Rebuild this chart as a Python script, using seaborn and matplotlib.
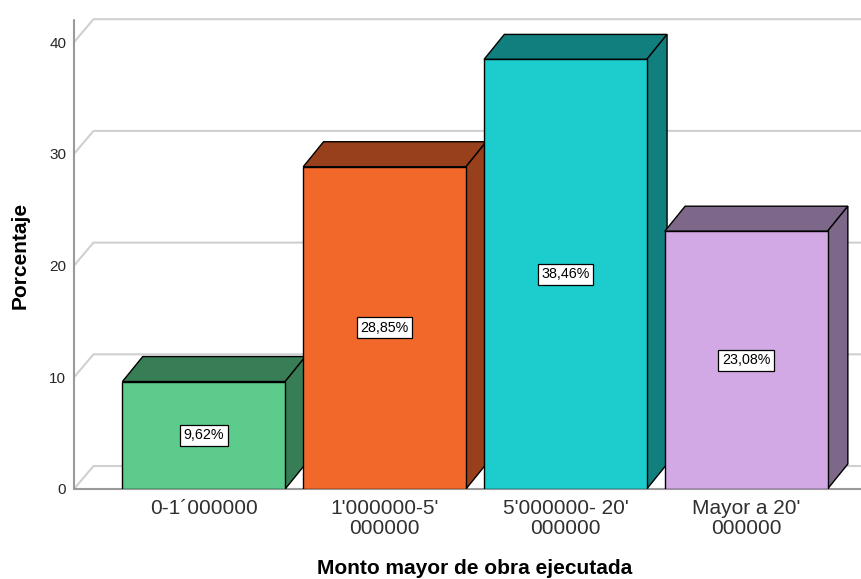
import matplotlib
matplotlib.use("Agg")
import matplotlib.pyplot as plt
from matplotlib.patches import Polygon
import seaborn as sns

# Data
categories = ["0-1´000000", "1'000000-5'\n000000", "5'000000- 20'\n000000", "Mayor a 20'\n000000"]
percentages = [9.62, 28.85, 38.46, 23.08]
value_labels = ["9,62%", "28,85%", "38,46%", "23,08%"]
y_ticks = [0, 10, 20, 30, 40]
front_colors = ["#5ccb8b", "#f2672a", "#1dcdcd", "#d2a9e5"]
shade_colors = ["#377d55", "#983f1b", "#117f7e", "#7d6889"]

sns.set_style("white")
plt.rcParams["font.family"] = ["Liberation Sans", "DejaVu Sans"]

W, H = 861, 579
fig = plt.figure(figsize=(W / 100, H / 100), dpi=100)

# axes placement in pixels
x_left_px, x_right_px = 74, 861
y_bottom_px, y_top_px = 489, 10
px_per_unit = 11.17
ax = fig.add_axes([x_left_px / W, (H - y_bottom_px) / H,
                   (x_right_px - x_left_px) / W, (y_bottom_px - y_top_px) / H])

sns.barplot(x=categories, y=percentages, hue=categories, palette=front_colors,
            legend=False, width=0.9, edgecolor="black", linewidth=1.0,
            saturation=1, ax=ax, zorder=3)

slot_px = 180.8
first_center_px = 203.8
x0 = -(first_center_px - x_left_px) / slot_px
x1 = (x_right_px - first_center_px) / slot_px
ax.set_xlim(x0, x1)
ax.set_ylim(0, (y_bottom_px - y_top_px) / px_per_unit)


# depth direction offsets, pixels converted to data units
def px_to_data(dx_px, dy_px):
    return dx_px / slot_px, dy_px / px_per_unit


wall_dx, wall_dy = px_to_data(19.5, 23)
bar_dx, bar_dy = px_to_data(20.3, 25)

# back wall grid lines with the receding floor edge
for v in y_ticks:
    ax.plot([x0, x0 + wall_dx, x1], [v, v + wall_dy, v + wall_dy],
            color="#d0d0d0", lw=1.5, zorder=1, clip_on=False, solid_capstyle="butt")

# front axis lines
ax.plot([x0, x0], [0, (y_bottom_px - 20) / px_per_unit], color="#9a9a9a", lw=1.5,
        zorder=1.5, clip_on=False)
ax.plot([x0, x1], [0, 0], color="#9a9a9a", lw=1.5, zorder=1.5, clip_on=False)

for patch, shade, label in zip(ax.patches, shade_colors, value_labels):
    bx = patch.get_x()
    bw = patch.get_width()
    h = patch.get_height()
    xa, xb = bx, bx + bw
    top = Polygon([(xa, h), (xb, h), (xb + bar_dx, h + bar_dy), (xa + bar_dx, h + bar_dy)],
                  closed=True, facecolor=shade, edgecolor="black", lw=1.0, zorder=2)
    side = Polygon([(xb, 0), (xb, h), (xb + bar_dx, h + bar_dy), (xb + bar_dx, bar_dy)],
                   closed=True, facecolor=shade, edgecolor="black", lw=1.0, zorder=2)
    ax.add_patch(top)
    ax.add_patch(side)
    ax.text(bx + bw / 2, h / 2, label, ha="center", va="center", fontsize=10.3,
            color="black", zorder=6,
            bbox=dict(boxstyle="square,pad=0.25", facecolor="white",
                      edgecolor="black", linewidth=0.9))

for s in ax.spines.values():
    s.set_visible(False)

ax.set_yticks(y_ticks)
ax.set_yticklabels([str(t) for t in y_ticks], fontsize=11, color="#262626")
ax.tick_params(axis="y", length=0, pad=5.5)
ax.tick_params(axis="x", length=0, pad=7)
for t in ax.get_xticklabels():
    t.set_fontsize(15)
    t.set_color("#303030")
    t.set_linespacing(1.1)

ax.set_xlabel("Monto mayor de obra ejecutada", fontsize=15, fontweight="bold",
              color="black", va="center", ha="center")
ax.xaxis.set_label_coords((475 - x_left_px) / (x_right_px - x_left_px),
                          -(568 - y_bottom_px) / (y_bottom_px - y_top_px))
ax.set_ylabel("Porcentaje", fontsize=15, fontweight="bold", color="black",
              va="center", ha="center")
ax.yaxis.set_label_coords(-(x_left_px - 20) / (x_right_px - x_left_px),
                          (y_bottom_px - 255) / (y_bottom_px - y_top_px))

fig.savefig("out.png", dpi=100, facecolor="white")
